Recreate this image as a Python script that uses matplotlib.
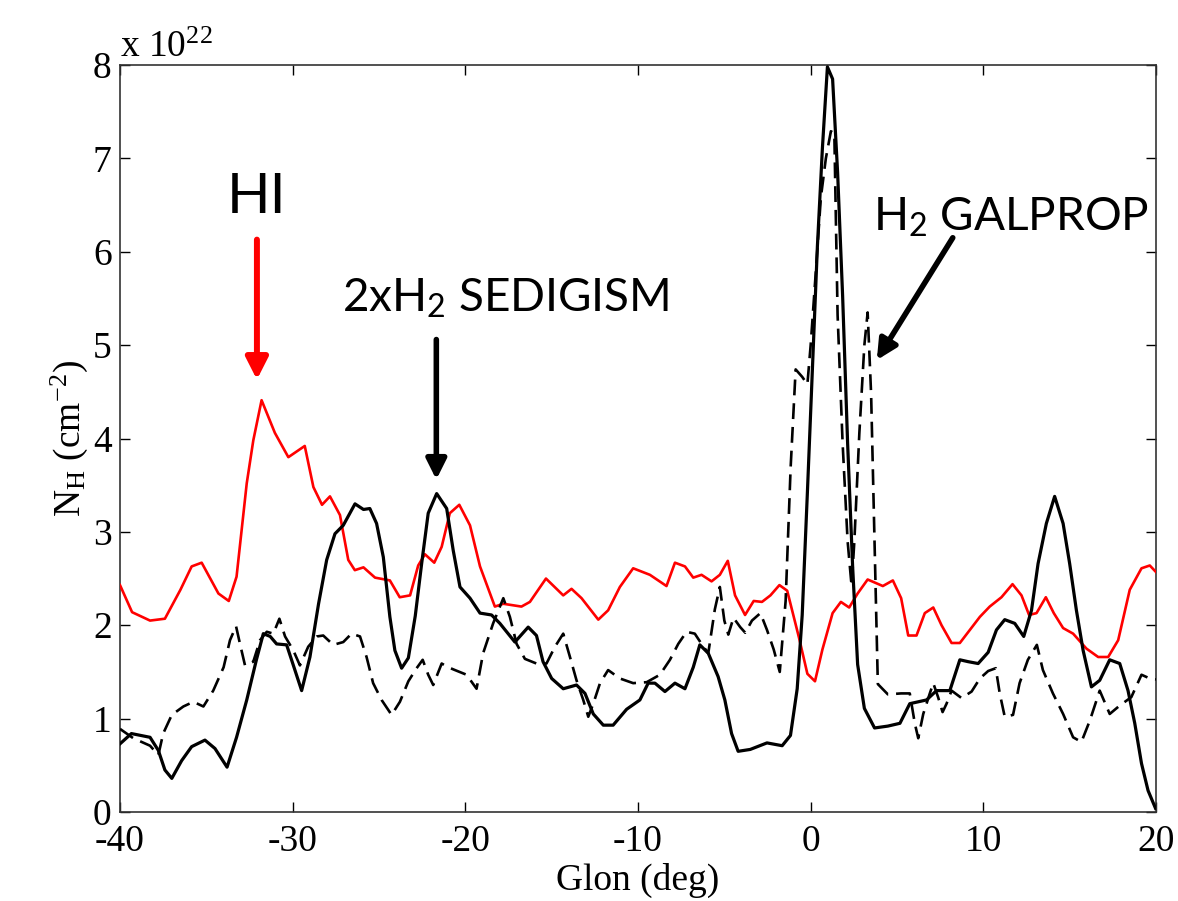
import matplotlib
matplotlib.use("Agg")
import matplotlib.pyplot as plt

# ---------------- data ----------------
hi_glon = [-40, -39.3, -38.26, -37.4, -36.5, -35.85, -35.27, -34.3, -33.7, -33.25,
           -32.66, -32.28, -31.8, -31.03, -30.25, -29.3, -28.8, -28.3, -27.84, -27.26,
           -26.78, -26.4, -25.9, -25.23, -24.37, -23.8, -23.2, -22.73, -22.34, -21.8,
           -21.37, -20.9, -20.35, -19.73, -19.15, -18.29, -17.8, -16.75, -16.26, -15.33,
           -14.33, -13.85, -13.27, -12.3, -11.73, -11.05, -10.28, -9.31, -8.35, -7.86,
           -7.28, -6.8, -6.32, -5.74, -5.26, -4.8, -4.38, -3.8, -3.3, -2.82,
           -2.33, -1.81, -1.36, -0.68, -0.19, 0.25, 0.68, 1.27, 1.75, 2.23,
           2.72, 3.3, 4.18, 4.76, 5.24, 5.65, 6.13, 6.61, 7.1, 7.58,
           8.16, 8.64, 9.22, 9.8, 10.37, 11.05, 11.69, 12.21, 12.65, 13.08,
           13.62, 14.08, 14.62, 15.2, 15.97, 16.65, 17.23, 17.81, 18.48, 19.16,
           19.64, 20.0]
hi_nh = [2.43, 2.14, 2.05, 2.07, 2.38, 2.63, 2.67, 2.34, 2.26, 2.52,
         3.52, 3.98, 4.41, 4.06, 3.80, 3.92, 3.48, 3.29, 3.38, 3.18,
         2.70, 2.59, 2.62, 2.51, 2.48, 2.30, 2.32, 2.64, 2.76, 2.67,
         2.84, 3.20, 3.29, 3.07, 2.63, 2.20, 2.23, 2.20, 2.25, 2.50,
         2.32, 2.39, 2.29, 2.06, 2.16, 2.41, 2.61, 2.54, 2.42, 2.67,
         2.63, 2.51, 2.54, 2.47, 2.54, 2.69, 2.32, 2.11, 2.26, 2.25,
         2.32, 2.43, 2.37, 1.87, 1.48, 1.40, 1.74, 2.13, 2.25, 2.19,
         2.34, 2.49, 2.42, 2.48, 2.29, 1.89, 1.89, 2.13, 2.19, 2.00,
         1.81, 1.81, 1.95, 2.09, 2.20, 2.30, 2.44, 2.32, 2.11, 2.13,
         2.30, 2.13, 1.97, 1.91, 1.75, 1.66, 1.66, 1.84, 2.38, 2.61,
         2.64, 2.57]

sedigism_glon = [-40, -39.34, -38.26, -37.78, -37.4, -37.0, -36.43, -35.85, -35.08, -34.5,
                 -33.8, -33.25, -32.66, -32.1, -31.7, -31.3, -30.93, -30.35, -29.87, -29.48,
                 -29.0, -28.5, -28.03, -27.55, -27.07, -26.39, -25.9, -25.53, -25.14, -24.75,
                 -24.37, -24.08, -23.69, -23.3, -22.9, -22.53, -22.15, -21.66, -21.08, -20.7,
                 -20.31, -19.73, -19.15, -18.48, -18.0, -17.13, -16.36, -15.88, -15.5, -15.0,
                 -14.33, -13.56, -13.07, -12.59, -12.01, -11.44, -10.66, -9.89, -9.41, -9.02,
                 -8.44, -7.86, -7.28, -6.8, -6.42, -5.93, -5.36, -4.97, -4.58, -4.2,
                 -3.5, -2.53, -1.65, -1.17, -0.78, -0.49, -0.19, 0.1, 0.39, 0.68,
                 0.97, 1.27, 1.56, 1.85, 2.14, 2.43, 2.72, 3.11, 3.7, 4.47,
                 5.17, 5.74, 6.71, 7.29, 8.06, 8.64, 9.12, 9.7, 10.28, 10.76,
                 11.24, 11.82, 12.34, 12.79, 13.17, 13.65, 14.13, 14.62, 15.0, 15.39,
                 15.78, 16.26, 16.74, 17.32, 17.9, 18.38, 18.77, 19.16, 19.54, 19.97]
sedigism_nh = [0.73, 0.84, 0.80, 0.66, 0.45, 0.36, 0.55, 0.70, 0.77, 0.68,
               0.48, 0.80, 1.20, 1.63, 1.91, 1.88, 1.80, 1.79, 1.52, 1.30,
               1.66, 2.23, 2.70, 2.98, 3.07, 3.30, 3.24, 3.25, 3.09, 2.73,
               2.09, 1.73, 1.54, 1.65, 2.10, 2.66, 3.20, 3.41, 3.25, 2.80,
               2.41, 2.29, 2.13, 2.11, 2.02, 1.82, 1.98, 1.89, 1.61, 1.43,
               1.32, 1.36, 1.27, 1.05, 0.93, 0.93, 1.10, 1.20, 1.38, 1.38,
               1.29, 1.38, 1.32, 1.55, 1.79, 1.70, 1.45, 1.20, 0.84, 0.65,
               0.67, 0.74, 0.71, 0.82, 1.32, 2.11, 3.42, 4.74, 6.06, 7.11,
               7.98, 7.85, 6.85, 5.53, 3.95, 2.63, 1.58, 1.11, 0.90, 0.92,
               0.95, 1.16, 1.20, 1.30, 1.30, 1.63, 1.61, 1.59, 1.71, 1.95,
               2.06, 2.02, 1.88, 2.16, 2.66, 3.09, 3.38, 3.09, 2.66, 2.16,
               1.73, 1.34, 1.41, 1.63, 1.59, 1.30, 0.95, 0.52, 0.23, 0.04]

galprop_glon = [-40, -39.23, -38.26, -37.78, -37.5, -37.0, -36.33, -35.75, -35.17, -34.6,
                -34.0, -33.63, -33.28, -33.05, -32.76, -32.28, -31.89, -31.5, -31.12, -30.77,
                -30.44, -29.96, -29.58, -29.1, -28.6, -28.23, -27.65, -27.07, -26.59, -26.1,
                -25.72, -25.34, -24.85, -24.27, -23.79, -23.3, -22.86, -22.47, -22.15, -21.86,
                -21.37, -20.99, -20.6, -19.93, -19.35, -18.97, -18.39, -17.8, -17.42, -17.03,
                -16.55, -15.88, -15.3, -14.81, -14.33, -13.94, -13.56, -13.17, -12.88, -12.59,
                -12.2, -11.73, -11.05, -10.28, -9.5, -8.73, -8.15, -7.67, -7.19, -6.71,
                -6.32, -5.93, -5.55, -5.26, -5.0, -4.77, -4.47, -4.08, -3.79, -3.4,
                -2.91, -2.53, -2.14, -1.79, -1.45, -1.16, -0.87, -0.49, -0.19, 0.0,
                0.3, 0.59, 0.88, 1.17, 1.37, 1.56, 1.85, 2.14, 2.37, 2.53,
                2.82, 3.11, 3.3, 3.5, 3.7, 3.89, 4.47, 5.24, 5.74, 6.03,
                6.23, 6.52, 6.9, 7.1, 7.38, 7.64, 7.87, 8.16, 8.74, 9.32,
                9.8, 10.28, 10.72, 10.95, 11.24, 11.72, 12.1, 12.58, 13.1, 13.45,
                14.03, 14.62, 15.2, 15.68, 16.17, 16.74, 17.32, 17.9, 18.57, 19.16,
                19.64, 20.0]
galprop_nh = [0.89, 0.79, 0.71, 0.61, 0.84, 1.04, 1.13, 1.18, 1.13, 1.30,
              1.55, 1.84, 1.99, 1.80, 1.57, 1.61, 1.84, 1.93, 1.91, 2.07,
              1.88, 1.73, 1.57, 1.77, 1.88, 1.89, 1.79, 1.82, 1.91, 1.88,
              1.66, 1.38, 1.20, 1.04, 1.18, 1.40, 1.53, 1.63, 1.47, 1.36,
              1.59, 1.55, 1.52, 1.47, 1.32, 1.70, 2.02, 2.29, 2.09, 1.80,
              1.64, 1.59, 1.59, 1.77, 1.91, 1.66, 1.41, 1.20, 1.02, 1.16,
              1.38, 1.52, 1.43, 1.38, 1.39, 1.47, 1.63, 1.80, 1.93, 1.91,
              1.80, 1.70, 2.17, 2.41, 2.05, 1.90, 2.08, 1.98, 1.92, 2.05,
              2.13, 1.95, 1.74, 1.50, 2.26, 3.69, 4.74, 4.66, 4.58, 5.00,
              5.79, 6.58, 7.00, 7.29, 7.27, 5.32, 3.95, 2.90, 2.42, 2.90,
              4.06, 5.00, 5.35, 4.48, 2.90, 1.37, 1.26, 1.27, 1.27, 0.95,
              0.79, 1.05, 1.27, 1.38, 1.23, 1.07, 1.16, 1.30, 1.22, 1.29,
              1.43, 1.51, 1.54, 1.27, 1.02, 1.04, 1.38, 1.63, 1.79, 1.52,
              1.27, 1.05, 0.80, 0.75, 0.98, 1.30, 1.05, 1.14, 1.23, 1.47,
              1.43, 1.42]

x_ticks = [-40, -30, -20, -10, 0, 10, 20]
y_ticks = [0, 1, 2, 3, 4, 5, 6, 7, 8]

# ---------------- style ----------------
plt.rcParams['font.family'] = ['Liberation Serif', 'DejaVu Serif']
plt.rcParams['axes.unicode_minus'] = False
plt.rcParams['mathtext.fontset'] = 'custom'
plt.rcParams['mathtext.rm'] = 'Liberation Serif'
plt.rcParams['mathtext.it'] = 'Liberation Serif:italic'
plt.rcParams['mathtext.sf'] = 'Lato'

W, H = 1178, 901
fig = plt.figure(figsize=(W / 100, H / 100), dpi=100)
ax = fig.add_axes([120 / W, 1 - 812 / H, 1036 / W, 747 / H])

ax.plot(hi_glon, hi_nh, color='#ff0000', lw=1.9, zorder=3)
ax.plot(sedigism_glon, sedigism_nh, color='black', lw=2.3, zorder=4)
ax.plot(galprop_glon, galprop_nh, color='black', lw=1.9, dashes=(6, 3), zorder=4)

ax.set_xlim(-40, 20)
ax.set_ylim(0, 8)
ax.set_xticks(x_ticks)
ax.set_yticks(y_ticks)
ax.tick_params(direction='in', top=True, right=True, length=7, width=1,
               labelsize=27, pad=6, colors='black')
ax.tick_params(axis='x', pad=9)
for s in ax.spines.values():
    s.set_linewidth(1.2)
    s.set_color('#333333')

ax.set_xlabel('Glon (deg)', fontsize=27, labelpad=3)
ax.set_ylabel(r'N$_{\mathrm{H}}$ (cm$^{\mathrm{-2}}$)', fontsize=27, labelpad=2)
fig.text(120 / W, 1 - 57 / H, r'x 10$^{\mathrm{22}}$', fontsize=27,
         ha='left', va='baseline')

# ---------------- annotations ----------------
sans = 'Lato'
ax.text(-32.09, 6.42, 'HI', family=sans, fontsize=41, ha='center', va='baseline')
ax.annotate('', xy=(-32.07, 4.63), xytext=(-32.07, 6.13),
            arrowprops=dict(arrowstyle='-|>,head_width=0.33,head_length=0.65',
                            mutation_scale=20, lw=4.3, color='#ff0000',
                            shrinkA=0, shrinkB=0))

ax.text(-27.16, 5.36, r'2xH$_{\mathsf{2}}$ SEDIGISM', family=sans, fontsize=33,
        ha='left', va='baseline')
ax.annotate('', xy=(-21.68, 3.56), xytext=(-21.68, 5.06),
            arrowprops=dict(arrowstyle='-|>,head_width=0.3,head_length=0.6',
                            mutation_scale=20, lw=4.0, color='black',
                            shrinkA=0, shrinkB=0))

ax.text(3.6, 6.23, r'H$_{\mathsf{2}}$ GALPROP', family=sans, fontsize=33,
        ha='left', va='baseline')
ax.annotate('', xy=(3.83, 4.84), xytext=(8.23, 6.15),
            arrowprops=dict(arrowstyle='-|>,head_width=0.3,head_length=0.6',
                            mutation_scale=20, lw=4.0, color='black',
                            shrinkA=0, shrinkB=0))

fig.savefig('out.png', dpi=100)
